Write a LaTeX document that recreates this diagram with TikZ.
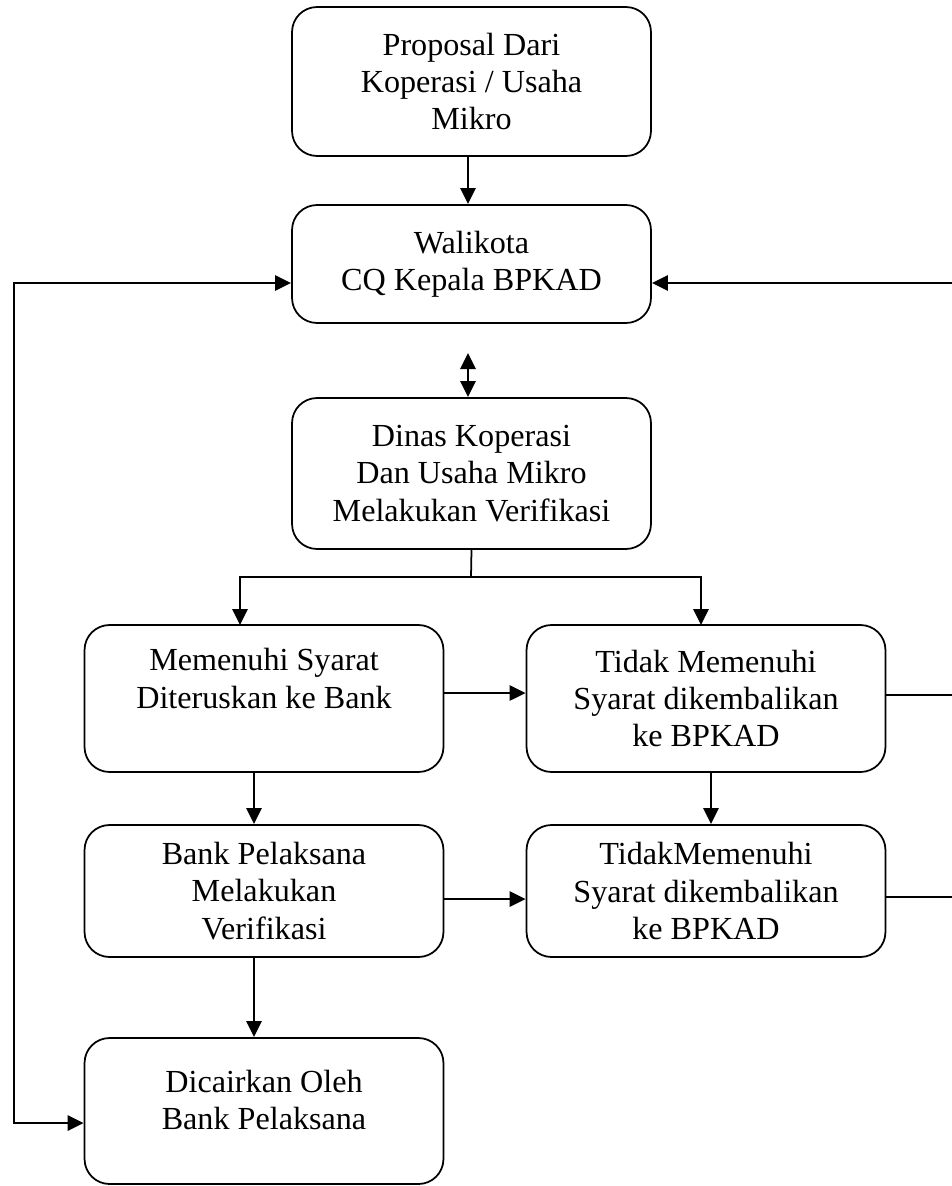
\documentclass[tikz,border=0pt]{standalone}
\usepackage{fontspec}
\setmainfont{Liberation Serif}
\usetikzlibrary{arrows.meta}
\tikzstyle{box}=[draw, line width=1pt, rounded corners=0.5cm, minimum width=7.18cm, align=center, inner sep=0pt, font=\fontsize{18.3}{21.3}\selectfont]
\tikzstyle{arrow}=[line width=1.6pt, -{Triangle[length=0.32cm, width=0.3cm]}]
\tikzstyle{biarrow}=[line width=1.6pt, {Triangle[length=0.32cm, width=0.3cm]}-{Triangle[length=0.32cm, width=0.3cm]}]
\tikzstyle{link}=[line width=1pt]

\begin{document}
\begin{tikzpicture}[x=0.02cm, y=-0.02cm]
\useasboundingbox (0,0) rectangle (952,1186);
\clip (0,0) rectangle (952,1186);

\node[box, minimum height=2.98cm] (proposal) at (471.5,81.5) {Proposal Dari\\Koperasi / Usaha\\Mikro};
\node[box, minimum height=2.36cm] (walikota) at (471.5,264) {Walikota\\CQ Kepala BPKAD};
\node[box, minimum height=3.02cm] (dinas) at (471.5,473.5) {Dinas Koperasi\\Dan Usaha Mikro\\Melakukan Verifikasi};
\node[box, minimum height=2.94cm, text depth=0.8cm] (memenuhi) at (264,698.5) {Memenuhi Syarat\\Diteruskan ke Bank};
\node[box, minimum height=2.94cm] (tidak) at (706,698.5) {Tidak Memenuhi\\Syarat dikembalikan\\ke BPKAD};
\node[box, minimum height=2.64cm] (bank) at (264,891) {Bank Pelaksana\\Melakukan\\Verifikasi};
\node[box, minimum height=2.64cm] (tidakb) at (706,891) {TidakMemenuhi\\Syarat dikembalikan\\ke BPKAD};
\node[box, minimum height=2.92cm, text depth=0.44cm] (cair) at (264,1111) {Dicairkan Oleh\\Bank Pelaksana};

\coordinate (atas) at (468,353);
\coordinate (cabang) at (471,577);
\coordinate (kiriatas) at (14,283);
\coordinate (kiribawah) at (14,1123);
\coordinate (kananatas) at (965,283);
\coordinate (kananbawah) at (965,897);

\draw[arrow] (proposal.south -| atas) -- (walikota.north -| atas);
\draw[biarrow] (atas) -- (dinas.north -| atas);
\draw[link] (dinas.south) -- (cabang);
\draw[arrow] (cabang) -| (240,625);
\draw[arrow] (cabang) -| (701,625);
\draw[arrow] (memenuhi.east |- 0,693) -- (tidak.west |- 0,693);
\draw[arrow] (bank.east |- 0,899) -- (tidakb.west |- 0,899);
\draw[arrow] (memenuhi.south -| 254,0) -- (bank.north -| 254,0);
\draw[arrow] (tidak.south -| 711,0) -- (tidakb.north -| 711,0);
\draw[arrow] (bank.south -| 254,0) -- (cair.north -| 254,0);

\draw[biarrow] (walikota.west |- kiriatas) -- (kiriatas) -- (kiribawah) -- (cair.west |- kiribawah);
\draw[arrow] (kananbawah) -- (kananatas) -- (walikota.east |- kananatas);
\draw[link] (tidak.east |- 0,695) -- (kananatas |- 0,695);
\draw[link] (tidakb.east |- kananbawah) -- (kananbawah);
\end{tikzpicture}
\end{document}
